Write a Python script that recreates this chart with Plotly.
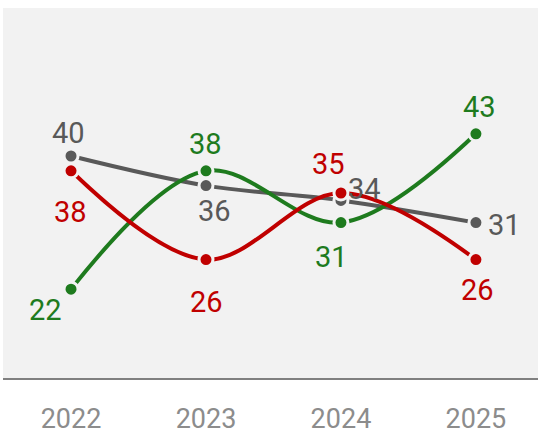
import plotly.graph_objects as go

years = ["2022", "2023", "2024", "2025"]
gray_vals = [40, 36, 34, 31]
green_vals = [22, 38, 31, 43]
red_vals = [38, 26, 35, 26]

# label offsets from each point, in pixels (x right, y up) - styling only
gray_dx = [-3, 9, 24, 29]
gray_dy = [23, -25, 11, -2]
green_dx = [-26, 0, -9, 4]
green_dy = [-21, 27, -34, 27]
red_dx = [-1, 1, -12, 2]
red_dy = [-41, -42, 29, -30]

GRAY = "#595959"
GREEN = "#1e7b1e"
RED = "#c00000"
BG = "#f2f2f2"
FONT = "Roboto"

fig = go.Figure()

def add(vals, color, dx, dy):
    fig.add_trace(go.Scatter(
        x=years, y=vals,
        mode="lines+markers",
        line=dict(color=color, width=4, shape="spline", smoothing=1),
        marker=dict(size=14, color=color, line=dict(color=BG, width=3)),
        showlegend=False,
        hoverinfo="skip",
    ))
    # category axis: annotations are placed by category index
    for i, (v, sx, sy) in enumerate(zip(vals, dx, dy)):
        fig.add_annotation(
            x=i, y=v, xref="x", yref="y", text=str(v),
            showarrow=False, xanchor="center", yanchor="middle",
            xshift=sx, yshift=sy,
            font=dict(family=FONT, size=29, color=color),
        )

add(gray_vals, GRAY, gray_dx, gray_dy)
add(green_vals, GREEN, green_dx, green_dy)
add(red_vals, RED, red_dx, red_dy)

fig.update_layout(
    width=538, height=431,
    margin=dict(l=3, r=0, t=8, b=53, autoexpand=False),
    paper_bgcolor="white",
    plot_bgcolor=BG,
    xaxis=dict(
        type="category",
        range=[-0.504, 3.46],
        automargin=False,
        showgrid=False, zeroline=False,
        showline=True, linecolor="#808080", linewidth=2,
        ticks="outside", ticklen=16, tickcolor="rgba(0,0,0,0)",
        tickfont=dict(family=FONT, size=27, color="#8c8c8c"),
    ),
    yaxis=dict(
        range=[10, 60], visible=False, showgrid=False, zeroline=False,
        automargin=False,
    ),
)

fig.write_html("out.html", config={"displayModeBar": False},
               post_script="document.body.style.margin='0px';")
